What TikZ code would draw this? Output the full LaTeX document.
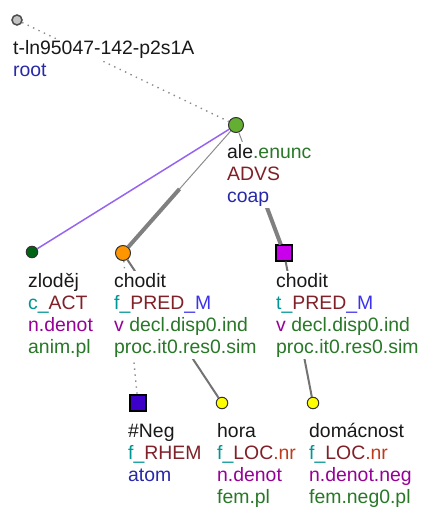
\documentclass[tikz,border=0pt]{standalone}
\usepackage{fontspec}
\setmainfont{Liberation Sans}
\usetikzlibrary{calc}
\definecolor{lemma}{RGB}{25,25,25}
\definecolor{tfa}{RGB}{0,150,150}
\definecolor{functor}{RGB}{128,32,40}
\definecolor{subfunctor}{RGB}{190,60,30}
\definecolor{member}{RGB}{60,50,235}
\definecolor{sempos}{RGB}{150,0,150}
\definecolor{gram}{RGB}{40,120,40}
\definecolor{nodetype}{RGB}{40,40,170}
\definecolor{edgegray}{RGB}{140,140,140}
\definecolor{coordedge}{RGB}{150,100,240}
\definecolor{rootfill}{RGB}{195,195,195}
\definecolor{coapfill}{RGB}{100,175,50}
\definecolor{actfill}{RGB}{0,100,20}
\definecolor{predfill}{RGB}{255,150,0}
\definecolor{predsq}{RGB}{200,0,235}
\definecolor{negfill}{RGB}{60,0,200}
\definecolor{locfill}{RGB}{255,255,0}
\newcommand{\fun}[2]{{\color{tfa}#1\_}{\color{functor}#2}}
\newcommand{\memb}{{\color{member}\_M}}
\tikzstyle{tnode}=[circle, draw=black!80, line width=1pt, inner sep=0pt, minimum size=15pt]
\tikzstyle{small}=[minimum size=11.5pt]
\tikzstyle{tsquare}=[rectangle, draw=black, line width=1.2pt, inner sep=0pt, minimum size=16pt]
\tikzstyle{lbl}=[anchor=base west, fill=white, inner xsep=1pt, inner ysep=0pt, text height=16pt, text depth=6pt, text=lemma, font=\fontsize{19.4}{22}\selectfont]
\tikzstyle{aux}=[draw=edgegray, line width=1.4pt, dash pattern=on 1.4pt off 4.6pt]
\tikzstyle{coord}=[draw=coordedge, line width=1.5pt]
\tikzstyle{thinedge}=[draw=edgegray, line width=1pt]
\tikzstyle{memberedge}=[draw=gray, line width=4pt]
\tikzstyle{edge}=[draw=black!55, line width=2pt]

\begin{document}
\begin{tikzpicture}[x=1pt,y=-1pt]
  \useasboundingbox (0,0) rectangle (421,511);
  %% nodes
  \draw (17,20) node[tnode,minimum size=10pt,draw=black!70,line width=1.5pt,fill=rootfill] (root) {};
  \draw (236,125) node[tnode,fill=coapfill] (ale) {};
  \draw (32,252) node[tnode,small,fill=actfill] (zl) {};
  \draw (123,253) node[tnode,fill=predfill] (chL) {};
  \draw (284,253) node[tsquare,fill=predsq] (chR) {};
  \draw (138,403) node[tsquare,fill=negfill] (neg) {};
  \draw (222,403) node[tnode,small,fill=locfill] (hora) {};
  \draw (313,403) node[tnode,small,fill=locfill] (dom) {};

  %% edges
  \draw[aux] (root) -- (ale);
  \draw[coord] (ale) -- (zl);
  \draw[thinedge] (ale) -- (chL);
  \draw[memberedge] ($(ale)!.5!(chL)$) -- (chL);
  \draw[thinedge] (ale) -- (chR);
  \draw[memberedge] ($(ale)!.5!(chR)$) -- (chR);
  \draw[aux] (chL) -- (neg);
  \draw[edge] (chL) -- (hora);
  \draw[edge] (chR) -- (dom);

  %% labels
  \draw (12,55) node[lbl] (root1) {t-ln95047-142-p2s1A};
  \draw (12,77) node[lbl,text=nodetype] (root2) {root};

  \draw (226,158) node[lbl] (ale1) {ale{\color{gram}.enunc}};
  \draw (226,180) node[lbl,text=functor] (ale2) {ADVS};
  \draw (226,202) node[lbl,text=nodetype] (ale3) {coap};

  \draw (27,287) node[lbl] (zl1) {zloděj};
  \draw (27,309) node[lbl] (zl2) {\fun{c}{ACT}};
  \draw (27,331) node[lbl,text=sempos] (zl3) {n.denot};
  \draw (27,353) node[lbl,text=gram] (zl4) {anim.pl};

  \draw (113,287) node[lbl] (chL1) {chodit};
  \draw (113,309) node[lbl] (chL2) {\fun{f}{PRED}\memb};
  \draw (113,331) node[lbl,text=gram] (chL3) {{\color{sempos}v} decl.disp0.ind};
  \draw (113,353) node[lbl,text=gram] (chL4) {proc.it0.res0.sim};

  \draw (275,287) node[lbl] (chR1) {chodit};
  \draw (275,309) node[lbl] (chR2) {\fun{t}{PRED}\memb};
  \draw (275,331) node[lbl,text=gram] (chR3) {{\color{sempos}v} decl.disp0.ind};
  \draw (275,353) node[lbl,text=gram] (chR4) {proc.it0.res0.sim};

  \draw (127,437) node[lbl] (neg1) {\#Neg};
  \draw (127,459) node[lbl] (neg2) {\fun{f}{RHEM}};
  \draw (127,481) node[lbl,text=nodetype] (neg3) {atom};

  \draw (216,437) node[lbl] (hora1) {hora};
  \draw (216,459) node[lbl] (hora2) {\fun{f}{LOC}{\color{subfunctor}.nr}};
  \draw (216,481) node[lbl,text=sempos] (hora3) {n.denot};
  \draw (216,503) node[lbl,text=gram] (hora4) {fem.pl};

  \draw (308,437) node[lbl] (dom1) {domácnost};
  \draw (308,459) node[lbl] (dom2) {\fun{f}{LOC}{\color{subfunctor}.nr}};
  \draw (308,481) node[lbl,text=sempos] (dom3) {n.denot.neg};
  \draw (308,503) node[lbl,text=gram] (dom4) {fem.neg0.pl};
\end{tikzpicture}
\end{document}
